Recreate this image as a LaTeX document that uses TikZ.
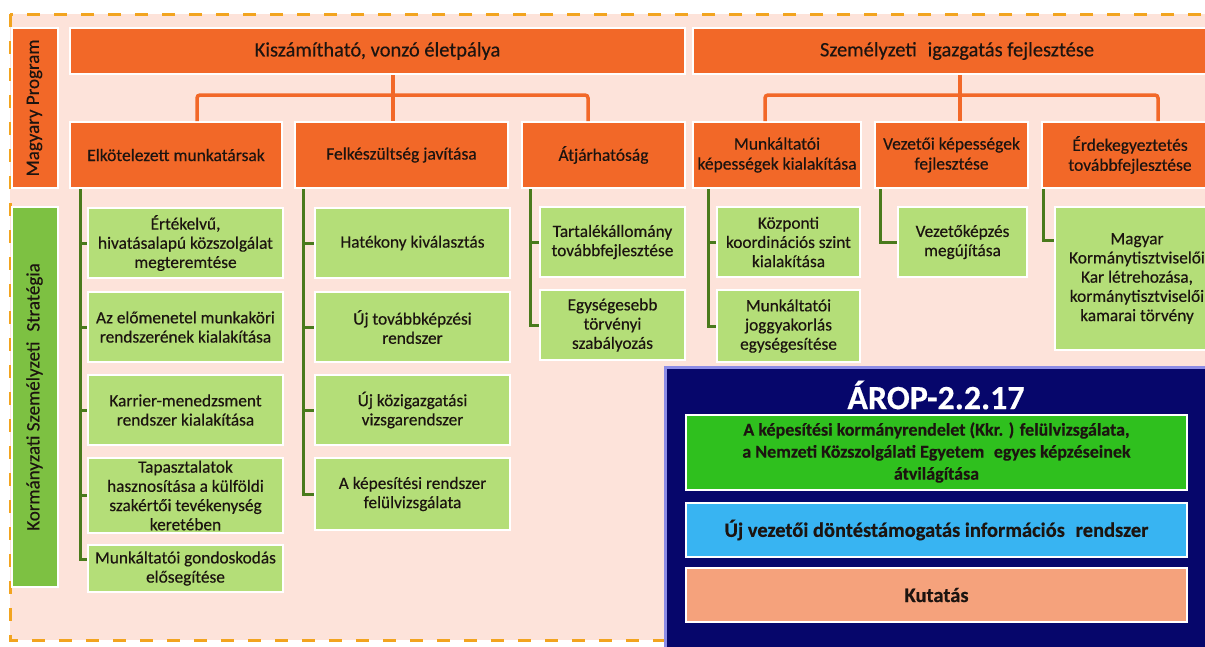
\documentclass[tikz,border=0pt]{standalone}
\usepackage{fontspec}
\setmainfont{Carlito}[FakeBold=0.35]
\usetikzlibrary{calc}
\definecolor{bgpink}{HTML}{FDE3DA}
\definecolor{dashor}{HTML}{F2A41F}
\definecolor{orbox}{HTML}{F26828}
\definecolor{ltgreen}{HTML}{B4DE78}
\definecolor{dkgreen}{HTML}{7DC142}
\definecolor{lngreen}{HTML}{4A7A1C}
\definecolor{navy}{HTML}{06066B}
\definecolor{lavender}{HTML}{8C8CE6}
\definecolor{brgreen}{HTML}{2FC01E}
\definecolor{skyblue}{HTML}{38B4F2}
\definecolor{salmon}{HTML}{F5A27C}
\definecolor{txt}{HTML}{1C1410}
\begin{document}
\begin{tikzpicture}[x=1pt,y=-1pt,
  box/.style={rectangle,draw=white,line width=2pt,inner sep=0pt,align=center,text=txt},
  sz/.style 2 args={minimum width=#1pt,minimum height=#2pt},
  topbar/.style={box,fill=orbox,font=\fontsize{20.5}{22}\selectfont},
  obox/.style={box,fill=orbox,font=\fontsize{17.5}{20}\selectfont},
  gbox/.style={box,fill=ltgreen,font=\fontsize{17.3}{19.2}\selectfont},
  sidelab/.style={box,rotate=90,font=\fontsize{19}{20}\selectfont},
  abox/.style={box,font=\bfseries\fontsize{18}{22}\selectfont},
  ol/.style={draw=orbox,line width=3.5pt,rounded corners=3pt},
  gl/.style={draw=lngreen,line width=3pt}]
\useasboundingbox (0,0) rectangle (1205,646);
\clip (0,0) rectangle (1205,646);
\fill[white] (0,0) rectangle (1205,646);
\fill[bgpink] (10,14) rectangle (1235,640);
\draw[dashor,line width=3pt,dash pattern=on 13pt off 14pt] (10,14) rectangle (1235,640);

% side labels
\node[sidelab,fill=orbox,sz={160}{46}] (mp) at (34.5,108) {Magyary Program};
\node[sidelab,fill=dkgreen,sz={380}{46}] (ks) at (34.5,397) {Kormányzati Személyzeti\hspace{0.3em} Stratégia};

% top bars
\node[topbar,sz={615}{46}] (kisz) at (377.5,51) {Kiszámítható, vonzó életpálya};
\node[topbar,sz={528}{46}] (szem) at (957,51) {Személyzeti\hspace{0.3em} igazgatás fejlesztése};

% second row
\node[obox,sz={212}{66}] (b1) at (176,155) {Elkötelezett munkatársak};
\node[obox,sz={213}{66}] (b2) at (401.5,155) {Felkészültség javítása};
\node[obox,sz={163}{66}] (b3) at (603.5,155) {Átjárhatóság};
\node[obox,sz={168}{66}] (b4) at (777,155) {Munkáltatói\\képességek kialakítása};
\node[obox,sz={153}{66}] (b5) at (951.5,155) {Vezetői képességek\\fejlesztése};
\node[obox,sz={176}{66}] (b6) at (1130,155) {Érdekegyeztetés\\továbbfejlesztése};

% column 1
\node[gbox,sz={195}{70}] (c1a) at (185.5,243) {Értékelvű,\\hivatásalapú közszolgálat\\megteremtése};
\node[gbox,sz={195}{70}] (c1b) at (185.5,327) {Az előmenetel munkaköri\\rendszerének kialakítása};
\node[gbox,sz={195}{70}] (c1c) at (185.5,410) {Karrier-menedzsment\\rendszer kialakítása};
\node[gbox,sz={195}{75}] (c1d) at (185.5,495.5) {Tapasztalatok\\hasznosítása a külföldi\\szakértői tevékenység\\keretében};
\node[gbox,sz={195}{47}] (c1e) at (185.5,568.5) {Munkáltatói gondoskodás\\elősegítése};
% column 2
\node[gbox,sz={195}{70}] (c2a) at (412.5,243) {Hatékony kiválasztás};
\node[gbox,sz={195}{70}] (c2b) at (412.5,327) {Új továbbképzési\\rendszer};
\node[gbox,sz={195}{70}] (c2c) at (412.5,410) {Új közigazgatási\\vizsgarendszer};
\node[gbox,sz={195}{72}] (c2d) at (412.5,494) {A képesítési rendszer\\felülvizsgálata};
% column 3
\node[gbox,sz={145}{70}] (c3a) at (612.5,242) {Tartalékállomány\\továbbfejlesztése};
\node[gbox,sz={145}{70}] (c3b) at (612.5,325) {Egységesebb\\törvényi\\szabályozás};
% column 4
\node[gbox,sz={143}{70}] (c4a) at (788.5,242) {Központi\\koordinációs szint\\kialakítása};
\node[gbox,sz={143}{72}] (c4b) at (788.5,326) {Munkáltatói\\joggyakorlás\\egységesítése};
% column 5
\node[gbox,sz={129}{70}] (c5a) at (962.5,242) {Vezetőképzés\\megújítása};
% column 6
\node[gbox,sz={164}{143}] (c6a) at (1137,278.5) {Magyar\\Kormánytisztviselői\\Kar létrehozása,\\kormánytisztviselői\\kamarai törvény};

% orange connectors
\coordinate (bus) at (0,95);
\coordinate (x1) at (197,0);
\coordinate (s1) at (393,0);
\coordinate (x3) at (588,0);
\coordinate (x4) at (765,0);
\coordinate (s2) at (960,0);
\coordinate (x6) at (1158,0);
\draw[ol] (b1.north -| x1) -- (x1 |- bus) -- (x3 |- bus) -- (b3.north -| x3);
\draw[ol] (kisz.south -| s1) -- (b2.north -| s1);
\draw[ol] (b4.north -| x4) -- (x4 |- bus) -- (x6 |- bus) -- (b6.north -| x6);
\draw[ol] (szem.south -| s2) -- (b5.north -| s2);

% green connectors
\coordinate (l1) at (80,0);
\coordinate (l2) at (303,0);
\coordinate (l3) at (530,0);
\coordinate (l4) at (708,0);
\coordinate (l5) at (880,0);
\coordinate (l6) at (1043,0);
\coordinate (e1) at ($(c1e.west)+(0,-9)$);
\coordinate (t6) at ($(c6a.west)+(0,-38)$);
\draw[gl] (b1.south -| l1) |- (e1);
\foreach \n in {c1a,c1b,c1c,c1d} \draw[gl] (\n.west -| l1) -- (\n.west);
\draw[gl] (b2.south -| l2) |- (c2d.west);
\foreach \n in {c2a,c2b,c2c} \draw[gl] (\n.west -| l2) -- (\n.west);
\draw[gl] (b3.south -| l3) |- (c3b.west);
\draw[gl] (c3a.west -| l3) -- (c3a.west);
\draw[gl] (b4.south -| l4) |- (c4b.west);
\draw[gl] (c4a.west -| l4) -- (c4a.west);
\draw[gl] (b5.south -| l5) |- (c5a.west);
\draw[gl] (b6.south -| l6) |- (t6);

% AROP block
\node[rectangle,draw=lavender,line width=3pt,fill=navy,inner sep=0pt,sz={570}{303}] (arop) at (950,518.5) {};
\node[text=white,font=\bfseries\fontsize{34}{36}\selectfont,inner sep=0pt] (atitle) at (936,395) {ÁROP-2.2.17};
\node[abox,fill=brgreen,sz={501}{75}] (a1) at (936.5,452.5) {A képesítési kormányrendelet (Kkr. ) felülvizsgálata,\\a Nemzeti Közszolgálati Egyetem\hspace{0.3em} egyes képzéseinek\\átvilágítása};
\node[abox,fill=skyblue,sz={501}{54},font=\bfseries\fontsize{20.5}{22}\selectfont] (a2) at (936.5,530) {Új vezetői döntéstámogatás információs\hspace{0.3em} rendszer};
\node[abox,fill=salmon,sz={501}{54},font=\bfseries\fontsize{20.5}{22}\selectfont] (a3) at (936.5,595) {Kutatás};
\end{tikzpicture}
\end{document}
